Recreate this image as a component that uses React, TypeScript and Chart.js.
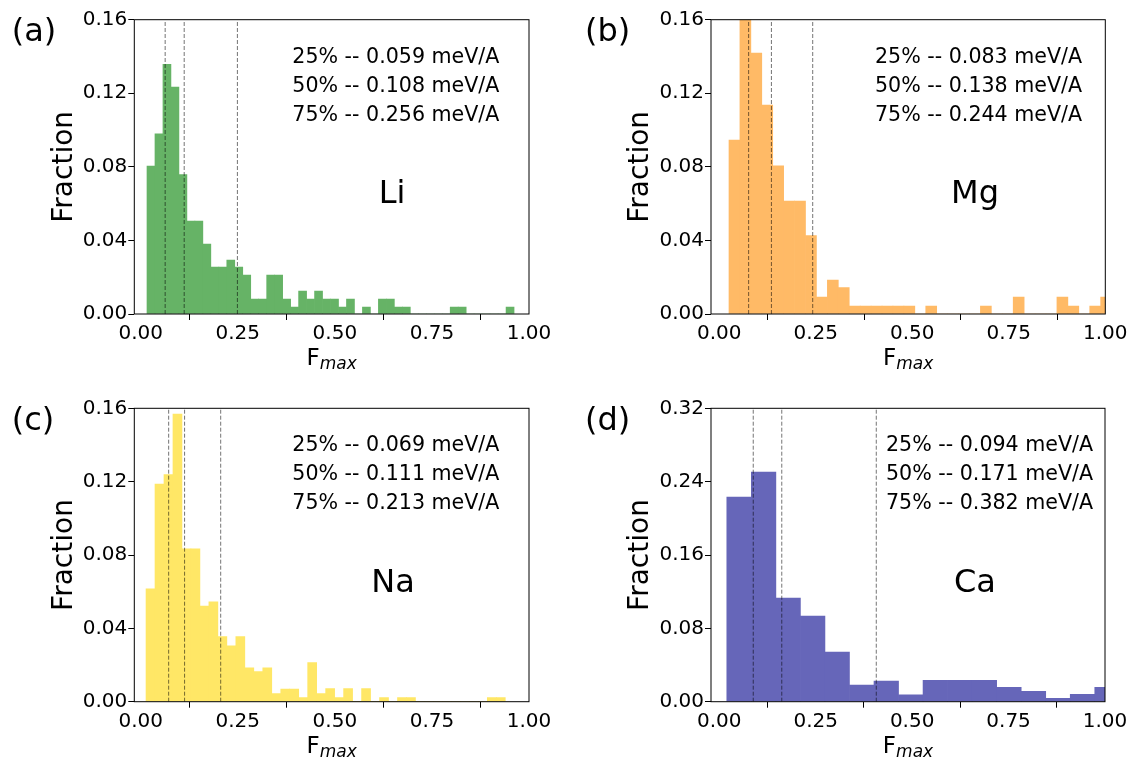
import React, { useEffect, useRef } from "react";
import { Chart, registerables } from "chart.js";

Chart.register(...registerables);

const FONT = "'DejaVu Sans', sans-serif";

// ---------- axis ticks ----------
const xTickValues = [0, 0.25, 0.5, 0.75, 1.0];
const yTicksSmall = [0, 0.04, 0.08, 0.12, 0.16];
const yTicksCa = [0, 0.08, 0.16, 0.24, 0.32];

// ---------- Li ----------
const liBinStart = 0.0162;
const liBinWidth = 0.02055;
const liFraction = [
  0.0804, 0.0979, 0.1357, 0.1234, 0.0758, 0.0505, 0.0505, 0.038, 0.0255, 0.0255,
  0.0293, 0.0255, 0.0212, 0.0081, 0.0081, 0.0212, 0.0212, 0.0081, 0.0038, 0.0125,
  0.0081, 0.0125, 0.0081, 0.0081, 0.0038, 0.0081, 0, 0.0038, 0, 0.0081,
  0.0081, 0.0038, 0.0038, 0, 0, 0, 0, 0, 0.0038, 0.0038,
  0, 0, 0, 0, 0, 0.0038,
];
const liQuartiles = [0.063, 0.112, 0.249];
const liLabels = ["25% -- 0.059 meV/A", "50% -- 0.108 meV/A", "75% -- 0.256 meV/A"];

// ---------- Mg ----------
const mgBinStart = 0.0251;
const mgBinWidth = 0.02832;
const mgFraction = [
  0.0946, 0.25, 0.1419, 0.1136, 0.0805, 0.0614, 0.0614, 0.0426, 0.0092, 0.0185,
  0.0143, 0.0043, 0.0043, 0.0043, 0.0043, 0.0043, 0.0043, 0, 0.0043, 0,
  0, 0, 0, 0.0043, 0, 0, 0.0092, 0, 0, 0,
  0.0092, 0.0043, 0, 0.0043, 0.0092,
];
const mgQuartiles = [0.076, 0.135, 0.242];
const mgLabels = ["25% -- 0.083 meV/A", "50% -- 0.138 meV/A", "75% -- 0.244 meV/A"];

// ---------- Na ----------
const naBinStart = 0.0137;
const naBinWidth = 0.02313;
const naFraction = [
  0.0616, 0.1187, 0.1238, 0.1569, 0.0833, 0.0833, 0.0522, 0.0544, 0.0355, 0.0305,
  0.0355, 0.0185, 0.0164, 0.0185, 0.0044, 0.0069, 0.0069, 0.0022, 0.0213, 0.0044,
  0.0071, 0.0022, 0.0071, 0, 0.0071, 0, 0.0022, 0, 0.0022, 0.0022,
  0, 0, 0, 0, 0, 0, 0, 0, 0.0022, 0.0022,
];
const naQuartiles = [0.072, 0.113, 0.206];
const naLabels = ["25% -- 0.069 meV/A", "50% -- 0.111 meV/A", "75% -- 0.213 meV/A"];

// ---------- Ca ----------
const caBinStart = 0.0195;
const caBinWidth = 0.0636;
const caFraction = [
  0.2233, 0.2505, 0.1131, 0.0935, 0.0542, 0.0182, 0.0225, 0.0076, 0.0233, 0.0233,
  0.0233, 0.0156, 0.0113, 0.0036, 0.008, 0.0156,
];
const caQuartiles = [0.088, 0.162, 0.407];
const caLabels = ["25% -- 0.094 meV/A", "50% -- 0.171 meV/A", "75% -- 0.382 meV/A"];

type PanelCfg = {
  key: string;
  canvas: { left: number; top: number; width: number; height: number };
  area: { left: number; top: number; right: number; bottom: number };
  xMin: number;
  yMax: number;
  yTicks: number[];
  binStart: number;
  binWidth: number;
  fractions: number[];
  quartiles: number[];
  labels: string[];
  color: string;
  element: string;
  elementPos: [number, number];
  letter: string;
  letterPos: [number, number];
  textPos: [number, number];
  fmaxBaseline: number;
};

const panels: PanelCfg[] = [
  {
    key: "a",
    canvas: { left: 0, top: 0, width: 566, height: 380 },
    area: { left: 134.3, top: 19.7, right: 529, bottom: 314 },
    xMin: -0.0165, yMax: 0.16, yTicks: yTicksSmall,
    binStart: liBinStart, binWidth: liBinWidth, fractions: liFraction,
    quartiles: liQuartiles, labels: liLabels, color: "rgb(102,179,102)",
    element: "Li", elementPos: [392, 203.3],
    letter: "(a)", letterPos: [11.7, 40.8],
    textPos: [292.3, 62.7], fmaxBaseline: 365,
  },
  {
    key: "b",
    canvas: { left: 566, top: 0, width: 566, height: 380 },
    area: { left: 145, top: 19.7, right: 539.3, bottom: 314 },
    xMin: -0.0215, yMax: 0.16, yTicks: yTicksSmall,
    binStart: mgBinStart, binWidth: mgBinWidth, fractions: mgFraction,
    quartiles: mgQuartiles, labels: mgLabels, color: "rgb(255,186,102)",
    element: "Mg", elementPos: [409, 203.3],
    letter: "(b)", letterPos: [19, 40.8],
    textPos: [309, 62.7], fmaxBaseline: 365,
  },
  {
    key: "c",
    canvas: { left: 0, top: 380, width: 566, height: 381 },
    area: { left: 134.3, top: 28.3, right: 529, bottom: 321.7 },
    xMin: -0.0165, yMax: 0.16, yTicks: yTicksSmall,
    binStart: naBinStart, binWidth: naBinWidth, fractions: naFraction,
    quartiles: naQuartiles, labels: naLabels, color: "rgb(255,231,102)",
    element: "Na", elementPos: [393, 212],
    letter: "(c)", letterPos: [11.7, 49.5],
    textPos: [292.3, 71.3], fmaxBaseline: 372.7,
  },
  {
    key: "d",
    canvas: { left: 566, top: 380, width: 566, height: 381 },
    area: { left: 145, top: 28.3, right: 539, bottom: 321.7 },
    xMin: -0.0215, yMax: 0.32, yTicks: yTicksCa,
    binStart: caBinStart, binWidth: caBinWidth, fractions: caFraction,
    quartiles: caQuartiles, labels: caLabels, color: "rgb(102,102,185)",
    element: "Ca", elementPos: [409, 212],
    letter: "(d)", letterPos: [19, 49.5],
    textPos: [320, 71.3], fmaxBaseline: 372.7,
  },
];

function Panel({ cfg }: { cfg: PanelCfg }) {
  const ref = useRef<HTMLCanvasElement | null>(null);

  useEffect(() => {
    const canvas = ref.current;
    if (!canvas) return;
    const { width, height } = cfg.canvas;
    const a = cfg.area;

    const centers = cfg.fractions.map((_, i) => cfg.binStart + (i + 0.5) * cfg.binWidth);

    const decor = {
      id: "decor" + cfg.key,
      afterDraw(chart: any) {
        const ctx = chart.ctx as CanvasRenderingContext2D;
        const ca = chart.chartArea;
        ctx.save();
        // spines
        ctx.strokeStyle = "#000";
        ctx.lineWidth = 1;
        ctx.strokeRect(ca.left, ca.top, ca.right - ca.left, ca.bottom - ca.top);

        ctx.fillStyle = "#000";
        ctx.textBaseline = "alphabetic";
        // panel letter
        ctx.textAlign = "left";
        ctx.font = `32px ${FONT}`;
        ctx.fillText(cfg.letter, cfg.letterPos[0], cfg.letterPos[1]);
        // quartile annotations
        ctx.font = `20.6px ${FONT}`;
        cfg.labels.forEach((t, i) => {
          ctx.fillText(t, cfg.textPos[0], cfg.textPos[1] + i * 29);
        });
        // element
        ctx.textAlign = "center";
        ctx.font = `32px ${FONT}`;
        ctx.fillText(cfg.element, cfg.elementPos[0], cfg.elementPos[1]);
        // y label
        ctx.save();
        ctx.translate(ca.left - 62.8, (ca.top + ca.bottom) / 2);
        ctx.rotate(-Math.PI / 2);
        ctx.font = `28px ${FONT}`;
        ctx.textAlign = "center";
        ctx.fillText("Fraction", 0, 0);
        ctx.restore();
        // x label F_max
        ctx.textAlign = "left";
        ctx.font = `23px ${FONT}`;
        const wF = ctx.measureText("F").width;
        ctx.font = `italic 17px ${FONT}`;
        const wM = ctx.measureText("max").width;
        const cx = (ca.left + ca.right) / 2;
        const x0 = cx - (wF + wM) / 2;
        ctx.font = `23px ${FONT}`;
        ctx.fillText("F", x0, cfg.fmaxBaseline);
        ctx.font = `italic 17px ${FONT}`;
        ctx.fillText("max", x0 + wF, cfg.fmaxBaseline + 4.3);
        ctx.restore();
      },
    };

    const chart = new Chart(canvas, {
      type: "bar",
      data: {
        datasets: [
          {
            type: "bar",
            data: cfg.fractions.map((v, i) => ({ x: centers[i], y: v })),
            backgroundColor: cfg.color,
            borderWidth: 0,
            barPercentage: 1,
            categoryPercentage: 1,
            clip: 0,
            order: 2,
          } as any,
          ...cfg.quartiles.map(
            (q) =>
              ({
                type: "line",
                data: [
                  { x: q, y: 0 },
                  { x: q, y: cfg.yMax },
                ],
                borderColor: "rgba(0,0,0,0.55)",
                borderWidth: 1,
                borderDash: [4, 2],
                pointRadius: 0,
                fill: false,
                order: 1,
                clip: 0,
              } as any)
          ),
        ],
      },
      options: {
        responsive: false,
        maintainAspectRatio: false,
        animation: false,
        devicePixelRatio: 1,
        layout: {
          padding: { top: a.top, right: width - a.right, left: 0, bottom: 0 },
        },
        plugins: {
          legend: { display: false },
          tooltip: { enabled: false },
          title: { display: false },
        },
        scales: {
          x: {
            type: "linear",
            min: cfg.xMin,
            max: 1.0,
            offset: false,
            afterBuildTicks: (s: any) => {
              s.ticks = xTickValues.map((v) => ({ value: v }));
            },
            afterFit: (s: any) => {
              s.height = height - a.bottom;
            },
            grid: {
              display: true,
              drawOnChartArea: false,
              drawTicks: true,
              tickLength: 6,
              color: "#000",
              lineWidth: 1,
            },
            border: { display: false },
            ticks: {
              color: "#000",
              font: { family: FONT, size: 20 },
              padding: 2,
              maxRotation: 0,
              autoSkip: false,
              callback: (v: any) => Number(v).toFixed(2),
            },
          },
          y: {
            type: "linear",
            min: 0,
            max: cfg.yMax,
            afterBuildTicks: (s: any) => {
              s.ticks = cfg.yTicks.map((v) => ({ value: v }));
            },
            afterFit: (s: any) => {
              s.width = a.left;
            },
            grid: {
              display: true,
              drawOnChartArea: false,
              drawTicks: true,
              tickLength: 6,
              color: "#000",
              lineWidth: 1,
            },
            border: { display: false },
            ticks: {
              color: "#000",
              font: { family: FONT, size: 20 },
              padding: 1,
              autoSkip: false,
              callback: (v: any) => Number(v).toFixed(2),
            },
          },
        },
      } as any,
      plugins: [decor],
    });

    return () => chart.destroy();
  }, [cfg]);

  return (
    <canvas
      ref={ref}
      width={cfg.canvas.width}
      height={cfg.canvas.height}
      style={{
        position: "absolute",
        left: cfg.canvas.left,
        top: cfg.canvas.top,
        width: cfg.canvas.width,
        height: cfg.canvas.height,
        display: "block",
      }}
    />
  );
}

export default function App() {
  return (
    <div
      style={{
        position: "absolute",
        left: 0,
        top: 0,
        width: 1132,
        height: 761,
        background: "#fff",
        overflow: "hidden",
      }}
    >
      {panels.map((p) => (
        <Panel key={p.key} cfg={p} />
      ))}
    </div>
  );
}
